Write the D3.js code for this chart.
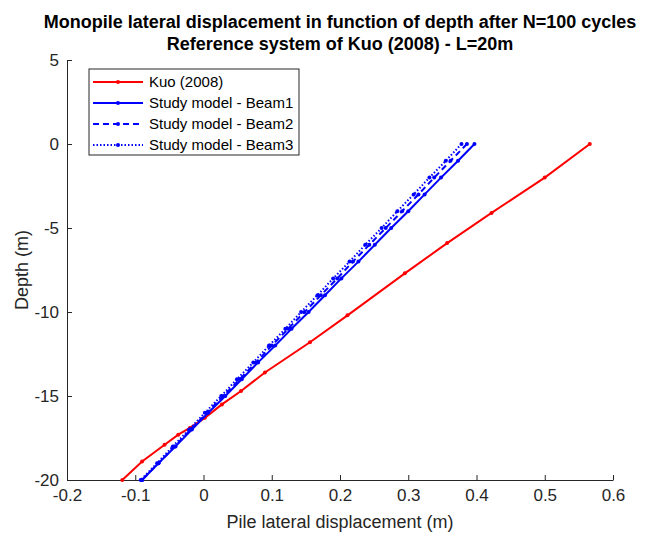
<!DOCTYPE html>
<html>
<head>
<meta charset="utf-8">
<script src="https://cdn.jsdelivr.net/npm/d3@7"></script>
<style>
  body { margin: 0; background: #fff; }
  svg { font-family: "Liberation Sans", Arial, sans-serif; }
</style>
</head>
<body>
<svg width="647" height="534"></svg>
<script>
// Kuo (2008) reference curve
var kuoDisp  = [0.566, 0.500, 0.422, 0.357, 0.295, 0.211, 0.156, 0.090, 0.055, 0.027, 0.002, -0.020, -0.037, -0.057, -0.090, -0.119];
var kuoDepth = [0, -2.0, -4.1, -5.9, -7.7, -10.2, -11.8, -13.6, -14.7, -15.5, -16.3, -16.9, -17.3, -17.9, -18.9, -20];

// study model, one point per metre
var beamDepth = [0, -1, -2, -3, -4, -5, -6, -7, -8, -9, -10, -11, -12, -13, -14, -15, -16, -17, -18, -19, -20];
var beam1Disp = [0.397, 0.373, 0.348, 0.324, 0.300, 0.275, 0.251, 0.227, 0.202, 0.178, 0.154, 0.129, 0.105, 0.080, 0.056, 0.032, 0.007, -0.017, -0.041, -0.066, -0.090];
var beam2Disp = [0.386, 0.362, 0.338, 0.315, 0.291, 0.267, 0.243, 0.219, 0.196, 0.172, 0.148, 0.124, 0.100, 0.077, 0.053, 0.029, 0.005, -0.019, -0.042, -0.066, -0.090];
var beam3Disp = [0.378, 0.355, 0.331, 0.308, 0.284, 0.261, 0.237, 0.214, 0.190, 0.167, 0.143, 0.120, 0.096, 0.073, 0.049, 0.026, 0.002, -0.021, -0.045, -0.068, -0.092];

var xTicks = [-0.2, -0.1, 0, 0.1, 0.2, 0.3, 0.4, 0.5, 0.6];
var yTicks = [5, 0, -5, -10, -15, -20];

var series = [
  {name: "Kuo (2008)",          color: "#ff0000", dash: null,  x: kuoDisp,   y: kuoDepth},
  {name: "Study model - Beam1", color: "#0000ff", dash: null,  x: beam1Disp, y: beamDepth},
  {name: "Study model - Beam2", color: "#0000ff", dash: "6,4", x: beam2Disp, y: beamDepth},
  {name: "Study model - Beam3", color: "#0000ff", dash: "1.5,2", x: beam3Disp, y: beamDepth}
];

var margin = {top: 60, right: 34, bottom: 54, left: 67},
    width = 647 - margin.left - margin.right,
    height = 534 - margin.top - margin.bottom;

var svg = d3.select("svg")
  .append("g")
    .attr("transform", "translate(" + margin.left + "," + margin.top + ")");

var x = d3.scaleLinear().domain([-0.2, 0.6]).range([0, width]);
var y = d3.scaleLinear().domain([-20, 5]).range([height, 0]);

var axisColor = "#262626";

// x axis, ticks inside, plain hyphen for negatives like matlab
var xAxis = svg.append("g")
    .attr("transform", "translate(0," + height + ")")
    .call(d3.axisBottom(x).tickValues(xTicks).tickSizeInner(-5).tickSizeOuter(0).tickPadding(9)
      .tickFormat(function(d) { return String(+d.toFixed(1)); }));

// y axis, ticks inside
var yAxis = svg.append("g")
    .call(d3.axisLeft(y).tickValues(yTicks).tickSizeInner(-5).tickSizeOuter(0).tickPadding(8)
      .tickFormat(function(d) { return String(d); }));

[xAxis, yAxis].forEach(function(a) {
  a.select(".domain").attr("stroke", axisColor).attr("stroke-width", 1);
  a.selectAll(".tick line").attr("stroke", axisColor);
  a.selectAll(".tick text").attr("fill", axisColor).style("font-size", "17px")
    .style("font-family", "'Liberation Sans', Arial, sans-serif");
});

// lines
var line = d3.line()
    .x(function(d) { return x(d[0]); })
    .y(function(d) { return y(d[1]); });

series.forEach(function(s) {
  var pts = s.x.map(function(v, i) { return [v, s.y[i]]; });
  svg.append("path")
      .datum(pts)
      .attr("fill", "none")
      .attr("stroke", s.color)
      .attr("stroke-width", 2)
      .attr("stroke-dasharray", s.dash)
      .attr("d", line);
  svg.append("g").selectAll("circle")
      .data(pts)
    .enter().append("circle")
      .attr("cx", function(d) { return x(d[0]); })
      .attr("cy", function(d) { return y(d[1]); })
      .attr("r", 2)
      .attr("fill", s.color);
});

// titles
var title = d3.select("svg").append("text")
    .attr("x", margin.left + width / 2)
    .attr("text-anchor", "middle")
    .attr("fill", "#000")
    .style("font-size", "18px")
    .style("font-weight", "bold");
title.append("tspan").attr("x", margin.left + width / 2).attr("y", 28)
    .text("Monopile lateral displacement in function of depth after N=100 cycles");
title.append("tspan").attr("x", margin.left + width / 2).attr("y", 50)
    .text("Reference system of Kuo (2008) - L=20m");

d3.select("svg").append("text")
    .attr("x", margin.left + width / 2)
    .attr("y", 528)
    .attr("text-anchor", "middle")
    .attr("fill", axisColor)
    .style("font-size", "18px")
    .text("Pile lateral displacement (m)");

d3.select("svg").append("text")
    .attr("transform", "translate(28," + (margin.top + height / 2) + ") rotate(-90)")
    .attr("text-anchor", "middle")
    .attr("fill", axisColor)
    .style("font-size", "18px")
    .text("Depth (m)");

// legend
var legend = d3.select("svg").append("g").attr("transform", "translate(89,69)");
legend.append("rect")
    .attr("width", 210).attr("height", 86)
    .attr("fill", "#fff")
    .attr("stroke", axisColor).attr("stroke-width", 1);

series.forEach(function(s, i) {
  var ly = 13 + i * 21;
  legend.append("line")
      .attr("x1", 4).attr("x2", 54)
      .attr("y1", ly).attr("y2", ly)
      .attr("stroke", s.color).attr("stroke-width", 2)
      .attr("stroke-dasharray", s.dash);
  legend.append("circle")
      .attr("cx", 29).attr("cy", ly).attr("r", 2)
      .attr("fill", s.color);
  legend.append("text")
      .attr("x", 60).attr("y", ly + 5)
      .attr("fill", "#000")
      .style("font-size", "15px")
      .text(s.name);
});
</script>
</body>
</html>
